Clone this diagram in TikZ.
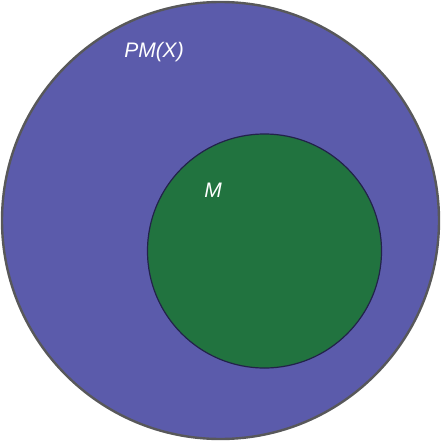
\documentclass[tikz,border=0pt]{standalone}
\usepackage{fontspec}
\setsansfont{Liberation Sans}
\usepackage{tikz}
\usetikzlibrary{positioning}
\definecolor{sOuter}{HTML}{5B5BAB}
\definecolor{sInner}{HTML}{21733F}
\definecolor{sRim}{HTML}{58585A}
\definecolor{sEdge}{HTML}{22224A}

\tikzset{
  bigset/.style={circle, draw=sRim, fill=sOuter, line width=2.4pt, minimum size=437pt, inner sep=0pt},
  subset/.style={circle, draw=sEdge, fill=sInner, line width=1.2pt, minimum size=234pt, inner sep=0pt},
  setlabel/.style={text=white, font=\sffamily\itshape\fontsize{21}{25}\selectfont, inner sep=0pt}
}

\begin{document}
\begin{tikzpicture}[x=1pt, y=-1pt]
  \useasboundingbox (0,0) rectangle (441,441);
  \node[bigset] (whole) at (220.5,220.5) {};
  \node[subset] (part) at (264.5,251) {};
  \node[setlabel] (wholelbl) at (154,52) {PM(X)};
  \node[setlabel] (partlbl) at (213,190) {M};
\end{tikzpicture}
\end{document}
